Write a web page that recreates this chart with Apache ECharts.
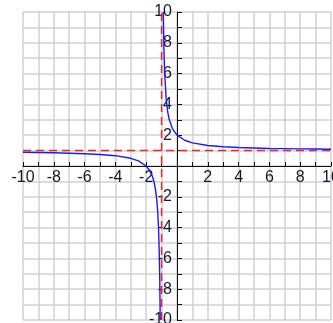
<!DOCTYPE html>
<html>
<head>
<meta charset="utf-8">
<script src="https://cdn.jsdelivr.net/npm/echarts@6/dist/echarts.min.js"></script>
<style>html,body{margin:0;padding:0;background:#fff}#c{width:333px;height:323px}</style>
</head>
<body>
<div id="c"></div>
<script>
// Left branch of the curve (x < -1)
const leftX = [-10, -9, -8, -7, -6, -5, -4, -3, -2.5, -2, -1.8, -1.6, -1.5, -1.4, -1.3, -1.25, -1.2, -1.15, -1.12, -1.1, -1.09];
const leftY = [0.89, 0.875, 0.86, 0.83, 0.8, 0.75, 0.67, 0.5, 0.33, 0, -0.25, -0.67, -1, -1.5, -2.33, -3, -4, -5.67, -7.3, -9, -10];
// Right branch of the curve (x > -1)
const rightX = [-0.89, -0.85, -0.8, -0.7, -0.6, -0.5, -0.3, 0, 0.5, 1, 2, 3, 4, 5, 6, 7, 8, 9, 10];
const rightY = [10, 7.67, 6, 4.33, 3.5, 3, 2.43, 2, 1.67, 1.5, 1.33, 1.25, 1.2, 1.17, 1.14, 1.125, 1.11, 1.1, 1.09];
// Asymptotes
const vAsymX = -1;
const hAsymY = 1;
// Axis range and labelled ticks
const axisMin = -10, axisMax = 10;
const tickLabels = [-10, -8, -6, -4, -2, 2, 4, 6, 8, 10];

const zip = (xs, ys) => xs.map((x, i) => [x, ys[i]]);
const fmt = v => tickLabels.indexOf(v) >= 0 ? String(v) : '';

const W = 333, H = 323;
const G = {left: 23, right: 2, top: 12, bottom: 3};
const gw = W - G.left - G.right, gh = H - G.top - G.bottom;

const chart = echarts.init(document.getElementById('c'), null, {renderer: 'canvas'});
const labelStyle = {color: '#16162e', fontSize: 16, fontFamily: 'Liberation Sans, Arial, sans-serif'};
chart.setOption({
  animation: false,
  grid: Object.assign({containLabel: false, outerBoundsMode: 'none'}, G),
  xAxis: {
    type: 'value', min: axisMin, max: axisMax, interval: 1,
    position: 'bottom', offset: -gh / 2,
    axisLine: {onZero: false, lineStyle: {color: '#111', width: 1}},
    axisTick: {inside: true, length: 4, lineStyle: {color: '#111'}},
    axisLabel: Object.assign({formatter: fmt, margin: 4, showMinLabel: true, showMaxLabel: true, hideOverlap: false}, labelStyle),
    splitLine: {show: true, lineStyle: {color: '#d0d0d0', width: 1.5}}
  },
  yAxis: {
    type: 'value', min: axisMin, max: axisMax, interval: 1,
    position: 'left', offset: -gw / 2,
    axisLine: {onZero: false, lineStyle: {color: '#111', width: 1}},
    axisTick: {inside: true, length: 5, lineStyle: {color: '#111'}},
    axisLabel: Object.assign({formatter: fmt, margin: 5, showMinLabel: true, showMaxLabel: true, hideOverlap: false}, labelStyle),
    splitLine: {show: true, lineStyle: {color: '#d0d0d0', width: 1.5}}
  },
  series: [
    {
      type: 'line', data: [[axisMin, hAsymY], [axisMax, hAsymY]], symbol: 'none', silent: true, z: 3,
      lineStyle: {color: '#ff2020', width: 1.5, type: [8, 5]}
    },
    {
      type: 'line', data: [[vAsymX, axisMin], [vAsymX, axisMax]], symbol: 'none', silent: true, z: 3,
      lineStyle: {color: '#ff2020', width: 1.5, type: [8, 5]}
    },
    {
      type: 'line', data: zip(leftX, leftY), symbol: 'none', z: 4,
      lineStyle: {color: '#1a1aff', width: 1.4}
    },
    {
      type: 'line', data: zip(rightX, rightY), symbol: 'none', z: 4,
      lineStyle: {color: '#1a1aff', width: 1.4}
    }
  ]
});
</script>
</body>
</html>
